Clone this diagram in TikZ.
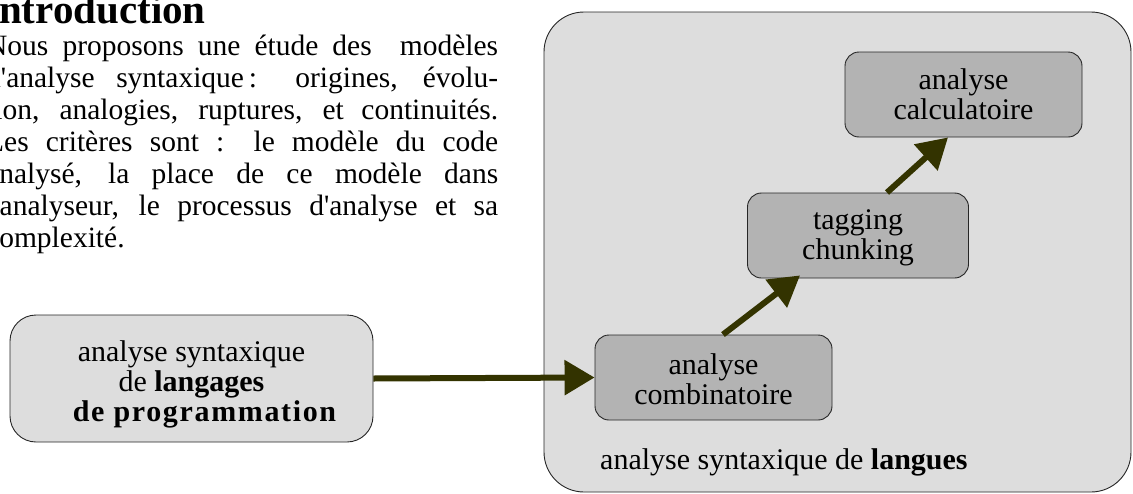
\documentclass[tikz,border=0pt]{standalone}
\usepackage{fontspec}
\setmainfont{Liberation Serif}[Ligatures=TeXOff]
\usetikzlibrary{arrows.meta}

\definecolor{panelgray}{HTML}{DDDDDD}
\definecolor{stepgray}{HTML}{B3B3B3}
\definecolor{arrowolive}{HTML}{333300}

\tikzset{
  boxtext/.style={font=\fontsize{30}{30}\selectfont, align=center},
  panel/.style={draw=black!85, line width=0.9pt, fill=panelgray, rounded corners=40pt,
    inner sep=0pt},
  stagebox/.style={draw=black!85, line width=0.9pt, fill=stepgray, rounded corners=14pt,
    boxtext, inner sep=0pt, minimum height=85pt},
  srcbox/.style={draw=black!85, line width=0.9pt, fill=panelgray, rounded corners=26pt,
    inner sep=0pt},
  flow/.style={draw=arrowolive, line width=6pt,
    -{Triangle[length=30pt, width=34pt, fill=arrowolive]}},
}

\begin{document}
\begin{tikzpicture}[x=1pt, y=-1pt]
  \useasboundingbox (0,0) rectangle (1133,493);
  \clip (0,0) rectangle (1133,493);

  % heading and introductory paragraph
  \node[anchor=base west, inner sep=0pt, font=\bfseries\fontsize{41}{44}\selectfont]
    (title) at (-17,23) {Introduction};
  \node[anchor=north west, inner sep=0pt, text width=512pt, align=justify,
        font=\fontsize{29.5}{32}\selectfont] (intro) at (-14,35)
    {Nous proposons une étude des\ \ modèles\linebreak
     d'analyse syntaxique\,: origines, évolu-\linebreak
     tion, analogies, ruptures, et continuités.\linebreak
     Les critères sont : le modèle du code\linebreak
     analysé, la place de ce modèle dans\linebreak
     l'analyseur, le processus d'analyse et sa\linebreak
     complexité.\par};

  % panel for natural-language parsing
  \node[panel, minimum width=587pt, minimum height=480pt] (lang) at (837.5,252) {};
  \node[boxtext, anchor=base west, inner sep=0pt] (langlabel) at (600,469)
    {analyse syntaxique de \textbf{langues}};

  % stages
  \node[stagebox, minimum width=237pt] (comb) at (713.5,377.5)
    {\rule{0pt}{24pt}analyse\\combinatoire};
  \node[stagebox, minimum width=221pt] (tag) at (858,235.5)
    {\rule{0pt}{24pt}tagging\\chunking};
  \node[stagebox, minimum width=237pt] (calc) at (963.5,94.5)
    {analyse\\calculatoire};

  % programming-language parsing
  \node[srcbox, minimum width=363pt, minimum height=127pt] (prog) at (191.5,378.5) {};
  \node[boxtext, inner sep=0pt] (progtext) at (191.5,384)
    {analyse syntaxique\\de \textbf{langages}\\
     \hspace*{26pt}{\bfseries\addfontfeatures{LetterSpace=5.5}de programmation}};

  % connectors
  \draw[flow] (prog.east) -- (comb.west);
  \draw[flow] ([xshift=9.5pt]comb.north) -- ([xshift=-58pt, yshift=3pt]tag.south);
  \draw[flow] ([xshift=29pt]tag.north) -- ([xshift=-15.5pt]calc.south);
\end{tikzpicture}
\end{document}
